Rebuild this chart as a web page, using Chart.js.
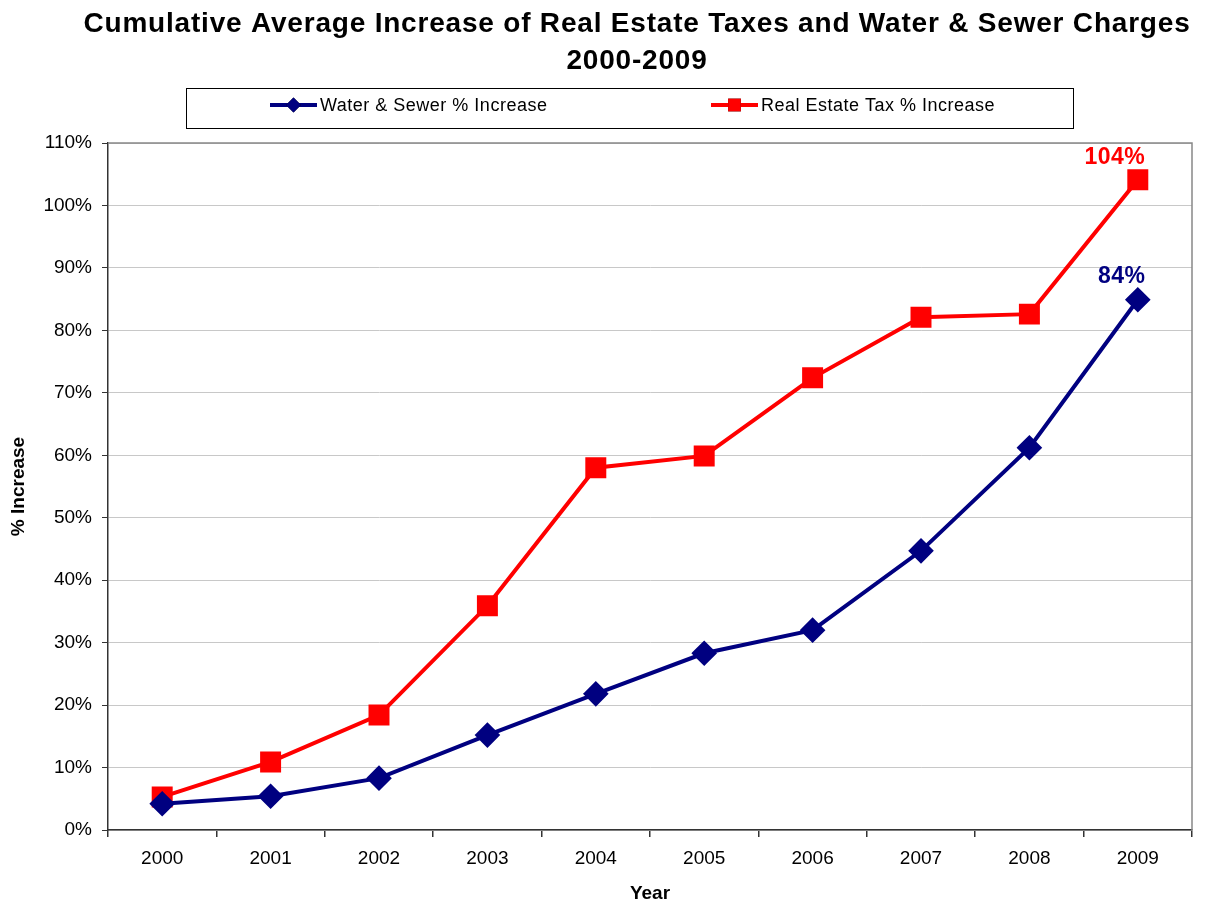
<!DOCTYPE html>
<html>
<head>
<meta charset="utf-8">
<title>Cumulative Average Increase</title>
<script src="https://cdn.jsdelivr.net/npm/chart.js@4.4.1/dist/chart.umd.min.js"></script>
<style>
  html, body { margin: 0; padding: 0; background: #ffffff; }
  #wrap { width: 1208px; height: 902px; }
</style>
</head>
<body>
<div id="wrap"><canvas id="graphique"></canvas></div>
<script>
var annees = ["2000", "2001", "2002", "2003", "2004", "2005", "2006", "2007", "2008", "2009"];
var eauEgout = [4.2, 5.4, 8.3, 15.2, 21.8, 28.3, 32.0, 44.7, 61.2, 84.9];
var taxeFonciere = [5.3, 10.9, 18.4, 35.9, 58.0, 59.9, 72.4, 82.1, 82.6, 104.1];
var nomsSeries = ["Water & Sewer % Increase", "Real Estate Tax % Increase"];
var titre = ["Cumulative Average Increase of Real Estate Taxes and Water & Sewer Charges", "2000-2009"];

var police = "'Liberation Sans', Arial, sans-serif";

// titre, cadre, legende et etiquettes de valeur
var decor = {
    id: "decor",
    afterDraw: function(chart) {
        var ctx = chart.ctx;
        var area = chart.chartArea;
        ctx.save();

        // bordure haute et droite du graphique
        ctx.strokeStyle = "#888888";
        ctx.lineWidth = 1.5;
        ctx.beginPath();
        ctx.moveTo(area.left, area.top);
        ctx.lineTo(area.right, area.top);
        ctx.lineTo(area.right, area.bottom);
        ctx.stroke();

        // titre
        ctx.fillStyle = "#000000";
        ctx.textAlign = "center";
        ctx.textBaseline = "middle";
        ctx.font = "bold 28px " + police;
        ctx.letterSpacing = "0.8px";
        ctx.fillText(titre[0], 637, 24);
        ctx.fillText(titre[1], 637, 61);

        // legende
        ctx.letterSpacing = "0.5px";
        ctx.strokeStyle = "#000000";
        ctx.lineWidth = 1;
        ctx.strokeRect(186.5, 88.5, 887, 40);
        var positions = [270, 711];
        chart.data.datasets.forEach(function(ds, i) {
            var x = positions[i];
            ctx.strokeStyle = ds.borderColor;
            ctx.lineWidth = 4;
            ctx.beginPath();
            ctx.moveTo(x, 105);
            ctx.lineTo(x + 47, 105);
            ctx.stroke();
            Chart.helpers.drawPoint(ctx, {
                pointStyle: ds.pointStyle,
                radius: ds.pointRadius * 0.75,
                rotation: 0,
                borderWidth: 0
            }, x + 23.5, 105);
            ctx.fillStyle = ds.pointBackgroundColor;
            ctx.fill();
            ctx.fillStyle = "#000000";
            ctx.textAlign = "left";
            ctx.font = "18px " + police;
            ctx.fillText(ds.label, x + 50, 106);
        });

        // valeur du dernier point de chaque serie
        ctx.letterSpacing = "0.5px";
        var decalages = [[-16, -23], [-23, -22]];
        chart.data.datasets.forEach(function(ds, i) {
            var meta = chart.getDatasetMeta(i);
            var n = ds.data.length - 1;
            var pt = meta.data[n];
            ctx.fillStyle = ds.borderColor;
            ctx.font = "bold 23px " + police;
            ctx.textAlign = "center";
            ctx.fillText(Math.floor(ds.data[n]) + "%", pt.x + decalages[i][0], pt.y + decalages[i][1]);
        });
        ctx.restore();
    }
};

var ctx = document.getElementById("graphique").getContext("2d");
var chart = new Chart(ctx, {
    type: "line",
    data: {
        labels: annees,
        datasets: [{
            label: nomsSeries[0],
            data: eauEgout,
            borderColor: "#000080",
            backgroundColor: "#000080",
            pointBackgroundColor: "#000080",
            pointBorderColor: "#000080",
            pointStyle: "rectRot",
            pointRadius: 10,
            borderWidth: 4,
            tension: 0
        }, {
            label: nomsSeries[1],
            data: taxeFonciere,
            borderColor: "#ff0000",
            backgroundColor: "#ff0000",
            pointBackgroundColor: "#ff0000",
            pointBorderColor: "#ff0000",
            pointStyle: "rect",
            pointRadius: 12,
            borderWidth: 4,
            tension: 0
        }]
    },
    options: {
        responsive: true,
        maintainAspectRatio: false,
        animation: false,
        layout: { padding: { top: 143, right: 16, left: 0, bottom: 0 } },
        plugins: {
            legend: { display: false },
            title: { display: false },
            tooltip: { enabled: false }
        },
        scales: {
            x: {
                offset: true,
                grid: {
                    offset: true,
                    drawOnChartArea: false,
                    tickLength: 7,
                    tickColor: "#333333",
                    lineWidth: 1.5
                },
                border: { color: "#333333", width: 1.5 },
                ticks: { color: "#000000", font: { family: police, size: 19 }, padding: 10 },
                title: {
                    display: true,
                    text: "Year",
                    color: "#000000",
                    font: { family: police, size: 19, weight: "bold" },
                    padding: { top: 4, bottom: -3 }
                },
                afterFit: function(scale) { scale.height = 72; }
            },
            y: {
                min: 0,
                max: 110,
                ticks: {
                    stepSize: 10,
                    color: "#000000",
                    font: { family: police, size: 19 },
                    padding: 10,
                    callback: function(v) { return v + "%"; }
                },
                grid: {
                    color: "#c8c8c8",
                    lineWidth: 1,
                    tickLength: 6,
                    tickColor: "#333333"
                },
                border: { color: "#333333", width: 1.5 },
                title: {
                    display: true,
                    text: "% Increase",
                    color: "#000000",
                    font: { family: police, size: 19, weight: "bold" },
                    padding: { top: 7, bottom: 0 }
                },
                afterFit: function(scale) { scale.width = 108; }
            }
        }
    },
    plugins: [decor]
});
</script>
</body>
</html>
